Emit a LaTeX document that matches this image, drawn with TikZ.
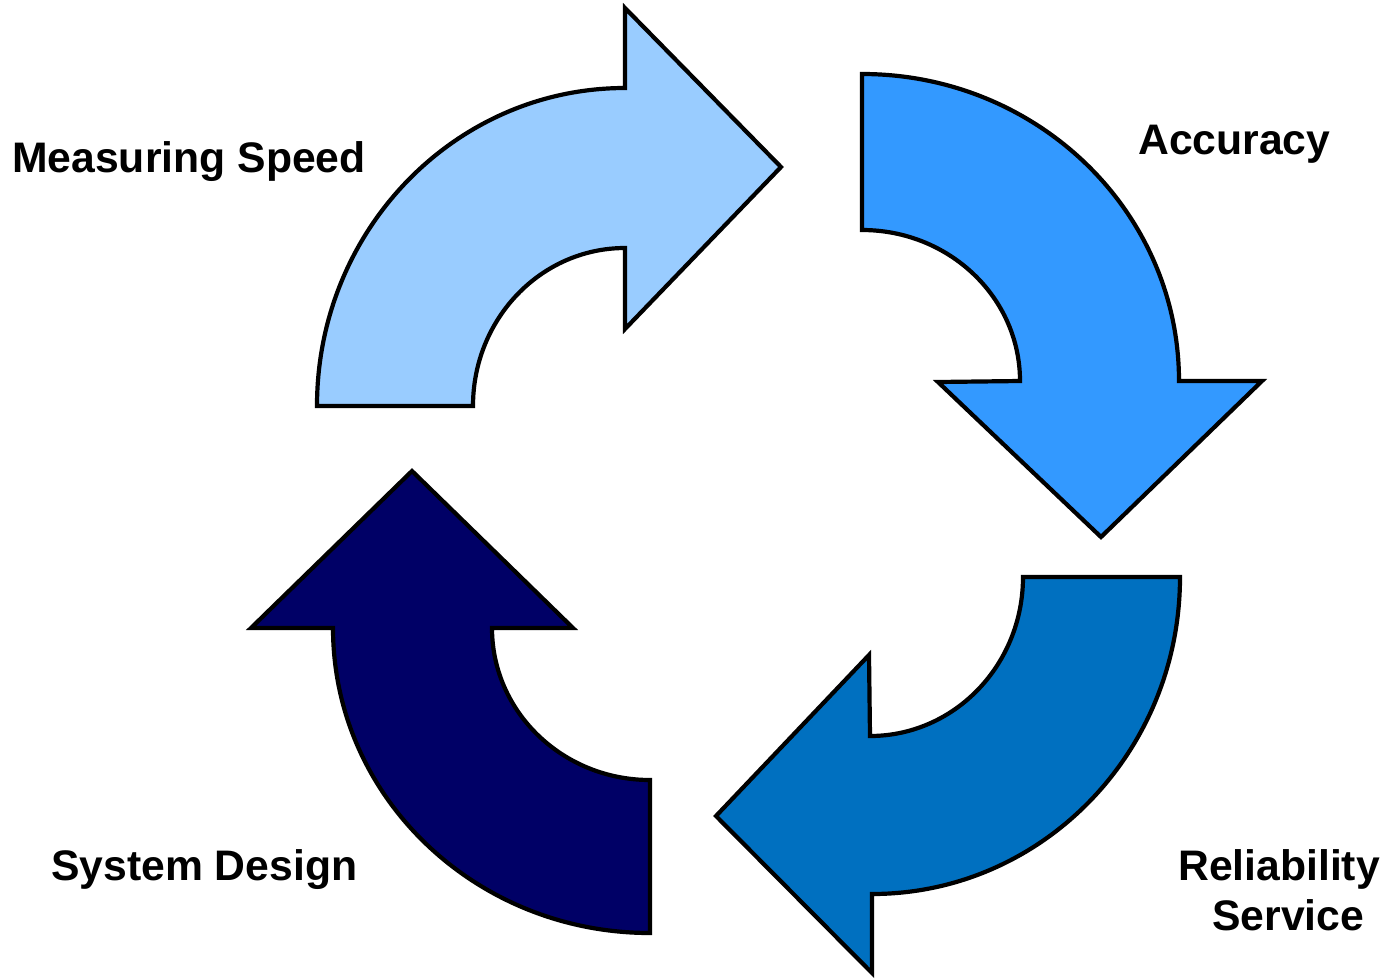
\documentclass[tikz,border=0pt]{standalone}
\usepackage{fontspec}
\setmainfont{Liberation Sans}
\definecolor{cLight}{HTML}{99CCFF}
\definecolor{cMid}{HTML}{3399FF}
\definecolor{cDeep}{HTML}{0070C0}
\definecolor{cNavy}{HTML}{000066}
\begin{document}
\begin{tikzpicture}[x=1pt,y=-1pt,
  arrowshape/.style={draw=black,line width=4.2pt,line join=miter},
  lbl/.style={inner sep=0pt,anchor=base west,font=\fontsize{42.7}{48}\selectfont\bfseries}]
\useasboundingbox (0,0) rectangle (1385,978);
% Arrow 1: light blue, top-left
\path[arrowshape,fill=cLight] (317,406) arc[start angle=180,end angle=270,x radius=308,y radius=318]
  -- (625,8) -- (781,167) -- (625,329) -- (625,248)
  arc[start angle=270,end angle=180,x radius=152,y radius=158] -- cycle;
% Arrow 2: mid blue, top-right
\path[arrowshape,fill=cMid] (862,74) arc[start angle=270,end angle=360,x radius=317,y radius=307]
  -- (1262,381) -- (1101,537) -- (938,382) -- (1020,381)
  arc[start angle=360,end angle=270,x radius=158,y radius=151] -- cycle;
% Arrow 3: deep blue, bottom-right
\path[arrowshape,fill=cDeep] (1180,577) arc[start angle=0,end angle=90,x radius=308,y radius=317]
  -- (872,973) -- (716,816) -- (869,655) -- (870,736)
  arc[start angle=90,end angle=0,x radius=153,y radius=159] -- cycle;
% Arrow 4: navy, bottom-left
\path[arrowshape,fill=cNavy] (650,933) arc[start angle=90,end angle=180,x radius=317,y radius=305]
  -- (251,628) -- (412,471) -- (573,628) -- (492,628)
  arc[start angle=180,end angle=90,x radius=158,y radius=152] -- cycle;
% Labels
\node[lbl] (ms) at (12,172) {Measuring Speed};
\node[lbl] (acc) at (1138,154) {Accuracy};
\node[lbl] (sd) at (51,880) {System Design};
\node[lbl] (rel) at (1178,880) {Reliability};
\node[lbl] (serv) at (1212,930) {Service};
\end{tikzpicture}
\end{document}
